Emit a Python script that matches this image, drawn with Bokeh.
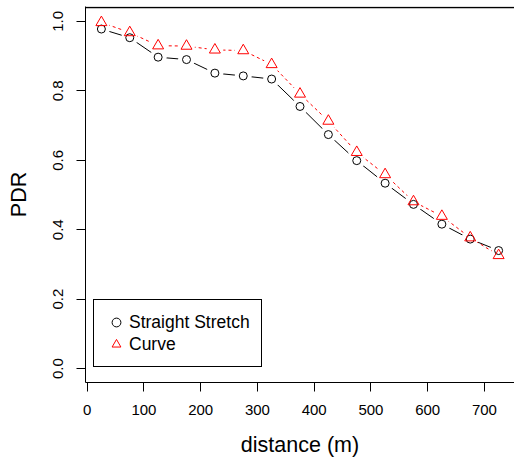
from bokeh.plotting import figure
from bokeh.models import (Range1d, FixedTicker, PrintfTickFormatter, Legend,
                          LegendItem, Span)
from bokeh.embed import file_html
from bokeh.resources import INLINE

# ---- data ----
distance = [25, 75, 125, 175, 225, 275, 325, 375, 425, 475, 525, 575, 625, 675, 725]
straight = [0.978, 0.953, 0.897, 0.890, 0.851, 0.843, 0.834, 0.755, 0.674,
            0.599, 0.534, 0.473, 0.416, 0.373, 0.340]
curve = [0.997, 0.968, 0.930, 0.929, 0.918, 0.916, 0.876, 0.791, 0.713,
         0.623, 0.559, 0.481, 0.439, 0.377, 0.326]
x_ticks = [0, 100, 200, 300, 400, 500, 600, 700]
y_ticks = [0.0, 0.2, 0.4, 0.6, 0.8, 1.0]
series_names = ["Straight Stretch", "Curve"]

FONT = "Liberation Sans"
Y_BOX_TOP = 1.04

p = figure(width=514, height=460, output_backend="svg", toolbar_location=None,
           x_range=Range1d(-3, 753), y_range=Range1d(-0.04, 1.0429),
           min_border_left=85, min_border_right=0, min_border_top=6,
           min_border_bottom=78)
p.outline_line_color = None
p.xgrid.visible = False
p.ygrid.visible = False
p.background_fill_color = "white"
p.border_fill_color = "white"

# axes
for ax in (p.xaxis[0], p.yaxis[0]):
    ax.axis_line_color = "black"
    ax.axis_line_width = 1
    ax.major_tick_line_color = "black"
    ax.major_tick_out = 9
    ax.major_tick_in = 0
    ax.minor_tick_line_color = None
    ax.major_label_text_font = FONT
    ax.major_label_text_font_size = "15px"
    ax.major_label_text_color = "black"
    ax.axis_label_text_font = FONT
    ax.axis_label_text_font_size = "21.5px"
    ax.axis_label_text_font_style = "normal"
    ax.axis_label_text_color = "black"

p.xaxis.ticker = FixedTicker(ticks=x_ticks)
p.yaxis.ticker = FixedTicker(ticks=y_ticks)
p.yaxis.formatter = PrintfTickFormatter(format="%.1f")
p.yaxis.major_label_orientation = "vertical"
p.xaxis.axis_label = "distance (m)"
p.yaxis.axis_label = "PDR"
p.xaxis.major_label_standoff = 13
p.xaxis.axis_label_standoff = 15
p.yaxis.major_label_standoff = 13
p.yaxis.axis_label_standoff = 20

# top border of the box
p.add_layout(Span(location=Y_BOX_TOP, dimension="width", line_color="black",
                  line_width=1.3))

# lines (type = "b": gaps around points)
p.line(distance, straight, line_color="black", line_width=1)
p.scatter(distance, straight, marker="circle", size=17, fill_color="white",
          line_color=None)
p.line(distance, curve, line_color="red", line_width=1, line_dash="3 3")
p.scatter(distance, curve, marker="circle", size=17, fill_color="white",
          line_color=None)

r1 = p.scatter(distance, straight, marker="circle", size=8, fill_color=None,
               line_color="black", line_width=1)
r2 = p.scatter(distance, curve, marker="triangle", size=11, fill_color=None,
               line_color="red", line_width=1)

legend = Legend(items=[LegendItem(label=series_names[0], renderers=[r1]),
                       LegendItem(label=series_names[1], renderers=[r2])],
                location=(8, 15))
legend.border_line_color = "black"
legend.border_line_width = 1
legend.border_line_alpha = 1
legend.background_fill_alpha = 1
legend.label_text_font = FONT
legend.label_text_font_size = "17.5px"
legend.label_text_color = "black"
legend.glyph_width = 22
legend.glyph_height = 22
legend.label_height = 22
legend.padding = 11
legend.spacing = 0
legend.label_standoff = 2
legend.margin = 0
p.add_layout(legend, "center")

open("out.html", "w").write(file_html(p, INLINE))
